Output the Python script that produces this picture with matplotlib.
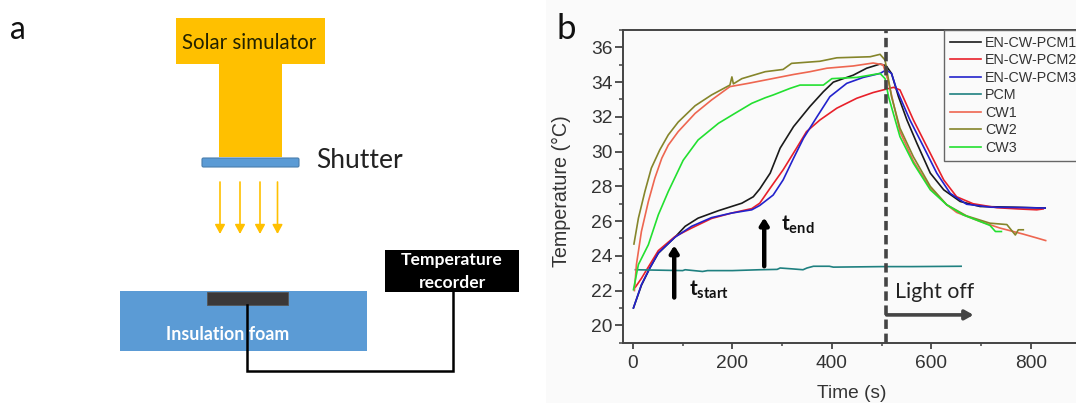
import matplotlib
matplotlib.use("Agg")
import matplotlib.pyplot as plt
from matplotlib.patches import Rectangle, FancyBboxPatch
from matplotlib.ticker import MultipleLocator

t_pcm1 = [1,17,34,51,84,105,131,172,219,242,255,276,296,323,356,383,403,443,470,497,509,520,534,551,571,598,625,658,698,765,829]
v_pcm1 = [21,22.3,23.3,24.15,25.06,25.7,26.17,26.6,27.03,27.4,27.85,28.76,30.2,31.44,32.6,33.45,34.0,34.4,34.8,35.04,34.95,34.5,33.16,31.82,30.48,28.76,27.8,27.13,26.84,26.8,26.75]
t_pcm2 = [5,17,34,51,84,118,158,198,239,255,276,302,329,349,376,410,450,483,510,524,537,564,598,625,651,684,732,775,812,825]
v_pcm2 = [22.2,22.7,23.5,24.3,25.1,25.6,26.15,26.46,26.72,27.03,27.9,28.95,30.2,31.15,31.82,32.5,33.07,33.4,33.6,33.7,33.55,31.82,29.9,28.37,27.4,27,26.77,26.7,26.65,26.7]
t_pcm3 = [1,17,34,51,84,118,158,198,239,255,282,302,323,343,370,396,430,463,497,509,520,530,557,584,611,638,671,720,780,829]
v_pcm3 = [21,22.34,23.3,24.17,25.06,25.7,26.2,26.46,26.65,26.9,27.5,28.37,29.62,30.77,32,33.16,33.93,34.27,34.5,34.7,34.5,33.6,31.82,30.3,28.76,27.6,26.97,26.8,26.78,26.75]
t_pcm = [5,100,105,140,150,200,255,290,296,320,342,350,363,395,403,500,560,660]
v_pcm = [23.2,23.15,23.2,23.1,23.15,23.15,23.2,23.22,23.3,23.25,23.2,23.3,23.4,23.4,23.35,23.38,23.38,23.4]
t_cw1 = [3,7,17,31,44,58,71,91,125,158,195,232,266,323,356,390,443,483,503,514,537,564,598,631,651,698,738,785,812,830]
v_cw1 = [22,23.5,25.4,27.13,28.47,29.62,30.37,31.15,32.2,32.97,33.74,33.93,34.12,34.44,34.6,34.8,34.93,35.1,35,34,31.15,29.45,27.9,26.94,26.5,25.98,25.6,25.25,25.03,24.88]
t_cw2 = [2,11,24,37,54,71,91,125,158,195,199,202,219,266,302,319,376,410,477,497,507,520,537,564,598,631,671,718,752,769,775,785]
v_cw2 = [24.68,26.17,27.7,29.05,30.1,30.96,31.7,32.64,33.26,33.83,34.3,33.9,34.2,34.6,34.73,35.08,35.2,35.4,35.46,35.6,35.27,33.16,31.35,29.7,28,26.94,26.3,25.88,25.8,25.2,25.5,25.5]
t_cw3 = [1,11,31,51,71,101,131,172,205,239,266,282,316,336,383,400,450,497,507,514,537,564,598,631,664,698,718,729,741]
v_cw3 = [22.05,23.5,24.64,26.36,27.7,29.5,30.67,31.63,32.2,32.78,33.1,33.26,33.64,33.83,33.83,34.2,34.27,34.5,34.2,33.16,30.86,29.33,27.8,26.94,26.36,25.98,25.75,25.4,25.4]
series_names = ["EN-CW-PCM1","EN-CW-PCM2","EN-CW-PCM3","PCM","CW1","CW2","CW3"]
series_colors = ["#1a1a1a","#e8202a","#2222cc","#1f8080","#ee6650","#85852a","#22e030"]
series_t = [t_pcm1,t_pcm2,t_pcm3,t_pcm,t_cw1,t_cw2,t_cw3]
series_v = [v_pcm1,v_pcm2,v_pcm3,v_pcm,v_cw1,v_cw2,v_cw3]

plt.rcParams["mathtext.fontset"] = "custom"
plt.rcParams["mathtext.bf"] = "Lato:bold"
plt.rcParams["mathtext.rm"] = "Lato"

W, H = 1076, 403
fig = plt.figure(figsize=(W/100, H/100), dpi=100, facecolor="white")

bg = fig.add_axes([0,0,1,1], zorder=0)
bg.set_xlim(0,W); bg.set_ylim(H,0); bg.axis("off")
bg.add_patch(Rectangle((546,0),530,403,fc="#fafafa",ec="none"))
SANS = "Lato"
ORANGE="#ffc000"; BLUE="#5b9bd5"
bg.add_patch(Rectangle((176,17.7),148.5,46.5,fc=ORANGE,ec="none"))
bg.add_patch(Rectangle((219,64),63,93,fc=ORANGE,ec="none"))
bg.add_patch(FancyBboxPatch((202,158),97,9,boxstyle="round,pad=0,rounding_size=1.5",fc=BLUE,ec="#4a7ead",lw=0.8))
for x in (220,240,260,277.5):
    bg.annotate("",xy=(x,234),xytext=(x,182),arrowprops=dict(arrowstyle="-|>,head_width=0.3,head_length=0.55",color=ORANGE,lw=1.2,shrinkA=0,shrinkB=0))
bg.add_patch(Rectangle((119.5,291),247.5,60,fc=BLUE,ec="none"))
bg.add_patch(Rectangle((206.5,292),81.5,13,fc="#3b3838",ec="#555555",lw=0.6))
bg.add_patch(Rectangle((385,250),133.5,42,fc="black",ec="none"))
bg.plot([247.3,247.3,453,453],[305,371,371,292],color="black",lw=1.8,solid_joinstyle="miter")
bg.text(249.5,43,"Solar simulator",ha="center",va="center",family=SANS,fontsize=14.8,color="#222200")
bg.text(316,160,"Shutter",ha="left",va="center",family=SANS,fontsize=19,color="#222222")
bg.text(452,260,"Temperature",ha="center",va="center",family=SANS,fontsize=12.6,fontweight="bold",color="white")
bg.text(452,283,"recorder",ha="center",va="center",family=SANS,fontsize=12.6,fontweight="bold",color="white")
bg.text(228,335,"Insulation foam",ha="center",va="center",family=SANS,fontsize=12.8,fontweight="bold",color="white")
bg.text(18,30,"a",ha="center",va="center",family=SANS,fontsize=23,color="#111111")
bg.text(566,29,"b",ha="center",va="center",family=SANS,fontsize=25,color="#111111")

L,T,B = 623,30,342.7
ax = fig.add_axes([L/W,(H-B)/H,(W-L)/W,(B-T)/H],zorder=1)
ax.patch.set_alpha(0)
ax.set_xlim(-20,891); ax.set_ylim(19,37)
for n,c,t,v in zip(series_names,series_colors,series_t,series_v):
    ax.plot(t,v,color=c,lw=1.2,label=n)
ax.axvline(508,color="#444444",lw=2.6,ls=(0,(2.6,1.3)),zorder=5)
for x,y0,y1 in ((83,21.6,24.6),(264,23.4,26.2)):
    ax.annotate("",xy=(x,y1),xytext=(x,y0),arrowprops=dict(arrowstyle="-|>,head_width=0.25,head_length=0.4",color="black",lw=3.2,shrinkA=0,shrinkB=0))
ax.annotate("",xy=(685,20.6),xytext=(510,20.6),arrowprops=dict(arrowstyle="-|>,head_width=0.28,head_length=0.5",color="#444444",lw=2.6,shrinkA=0,shrinkB=0))
ax.text(528,21.9,"Light off",family=SANS,fontsize=15.3,va="center",ha="left",color="#222222")
ax.text(113,22.05,r"$\mathbf{t}_{\mathbf{start}}$",fontsize=15,va="center",ha="left",color="#111111")
ax.text(298,25.8,r"$\mathbf{t}_{\mathbf{end}}$",fontsize=15,va="center",ha="left",color="#111111")

GR="#444444"
for s in ("top","left","bottom"):
    ax.spines[s].set_color(GR); ax.spines[s].set_linewidth(1.4)
ax.spines["right"].set_visible(False)
ax.set_xticks([0,200,400,600,800]); ax.set_yticks(range(20,37,2))
ax.xaxis.set_minor_locator(MultipleLocator(100)); ax.yaxis.set_minor_locator(MultipleLocator(1))
ax.tick_params(axis="y",which="major",length=6,width=1.3,color=GR,labelsize=13.8,labelcolor="#333333",pad=1.5)
ax.tick_params(axis="x",which="major",length=4,width=1.3,color=GR,labelsize=13.8,labelcolor="#333333",pad=5)
ax.tick_params(axis="y",which="minor",length=3,width=1.1,color=GR)
ax.tick_params(axis="x",which="minor",length=2.5,width=1.1,color=GR)
for l in ax.get_xticklabels()+ax.get_yticklabels():
    l.set_family("Liberation Sans")
ax.set_xlabel("Time (s)",family="Liberation Sans",fontsize=13.8,color="#333333",va="center")
ax.set_ylabel("Temperature (°C)",family="Liberation Sans",fontsize=14.2,color="#333333",va="center")
ax.xaxis.set_label_coords((852-L)/(W-L),(B-393)/(B-T))
ax.yaxis.set_label_coords((561-L)/(W-L),(B-191)/(B-T))
leg = ax.legend(loc="upper left",bbox_to_anchor=((944-L)/(W-L),1.0),frameon=True,fancybox=False,
    edgecolor="#666666",framealpha=1,facecolor="#fafafa",prop=dict(family="Liberation Sans",size=10.3),
    labelspacing=0.24,handlelength=2.15,handletextpad=0.3,borderpad=0.42,borderaxespad=0)
for txt in leg.get_texts(): txt.set_color("#333333")
leg.get_frame().set_linewidth(1.0)
fig.savefig("out.png",dpi=100)
